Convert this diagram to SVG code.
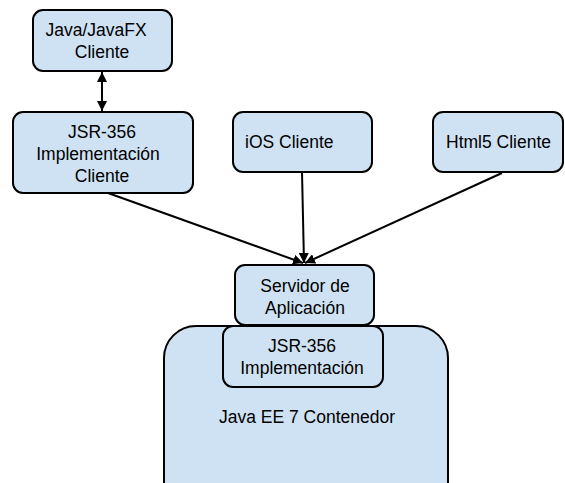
<svg xmlns="http://www.w3.org/2000/svg" width="565" height="483" viewBox="0 0 565 483">
<style>
.box{fill:#cfe2f3;stroke:#000;stroke-width:2}
.t{font-family:"Liberation Sans",Arial,sans-serif;font-size:17.5px;fill:#000}
.c{text-anchor:middle}
.edge{stroke:#000;stroke-width:2;fill:none}
</style>
<defs>
<marker id="ah" viewBox="0 0 10 10" refX="10" refY="5" markerWidth="5" markerHeight="5" orient="auto-start-reverse" markerUnits="strokeWidth">
<path d="M0,0 L10,5 L0,10 z" fill="#000"/>
</marker>
</defs>
<rect width="565" height="483" fill="#fff"/>
<g id="connectors">
<line class="edge" x1="102" y1="72" x2="102" y2="111" marker-start="url(#ah)" marker-end="url(#ah)"/>
<line class="edge" x1="108" y1="193" x2="303" y2="263" marker-end="url(#ah)"/>
<line class="edge" x1="302" y1="172" x2="304" y2="263" marker-end="url(#ah)"/>
<line class="edge" x1="502" y1="173" x2="305" y2="263" marker-end="url(#ah)"/>
</g>
<g id="javafx">
<rect class="box" x="33" y="10" width="139" height="61" rx="10"/>
<text class="t c" x="96" y="36">Java/JavaFX</text>
<text class="t c" x="102" y="58">Cliente</text>
</g>
<g id="jsr-cliente">
<rect class="box" x="13" y="112" width="180" height="81" rx="10"/>
<text class="t c" x="102" y="138">JSR-356</text>
<text class="t c" x="98" y="160">Implementación</text>
<text class="t c" x="102" y="182">Cliente</text>
</g>
<g id="ios">
<rect class="box" x="233" y="112" width="139" height="60" rx="10"/>
<text class="t" x="245" y="148">iOS Cliente</text>
</g>
<g id="html5">
<rect class="box" x="433" y="112" width="130" height="60" rx="10"/>
<text class="t" x="446" y="148">Html5 Cliente</text>
</g>
<g id="contenedor">
<rect class="box" x="164" y="326" width="284" height="190" rx="32"/>
<text class="t c" x="307" y="423">Java EE 7 Contenedor</text>
</g>
<g id="servidor">
<rect class="box" x="235" y="265" width="139" height="60" rx="10"/>
<text class="t c" x="305" y="292">Servidor de</text>
<text class="t c" x="305" y="314">Aplicación</text>
</g>
<g id="jsr-impl">
<rect class="box" x="223" y="326" width="160" height="61" rx="10"/>
<text class="t c" x="302" y="352">JSR-356</text>
<text class="t c" x="302" y="374">Implementación</text>
</g>
</svg>
